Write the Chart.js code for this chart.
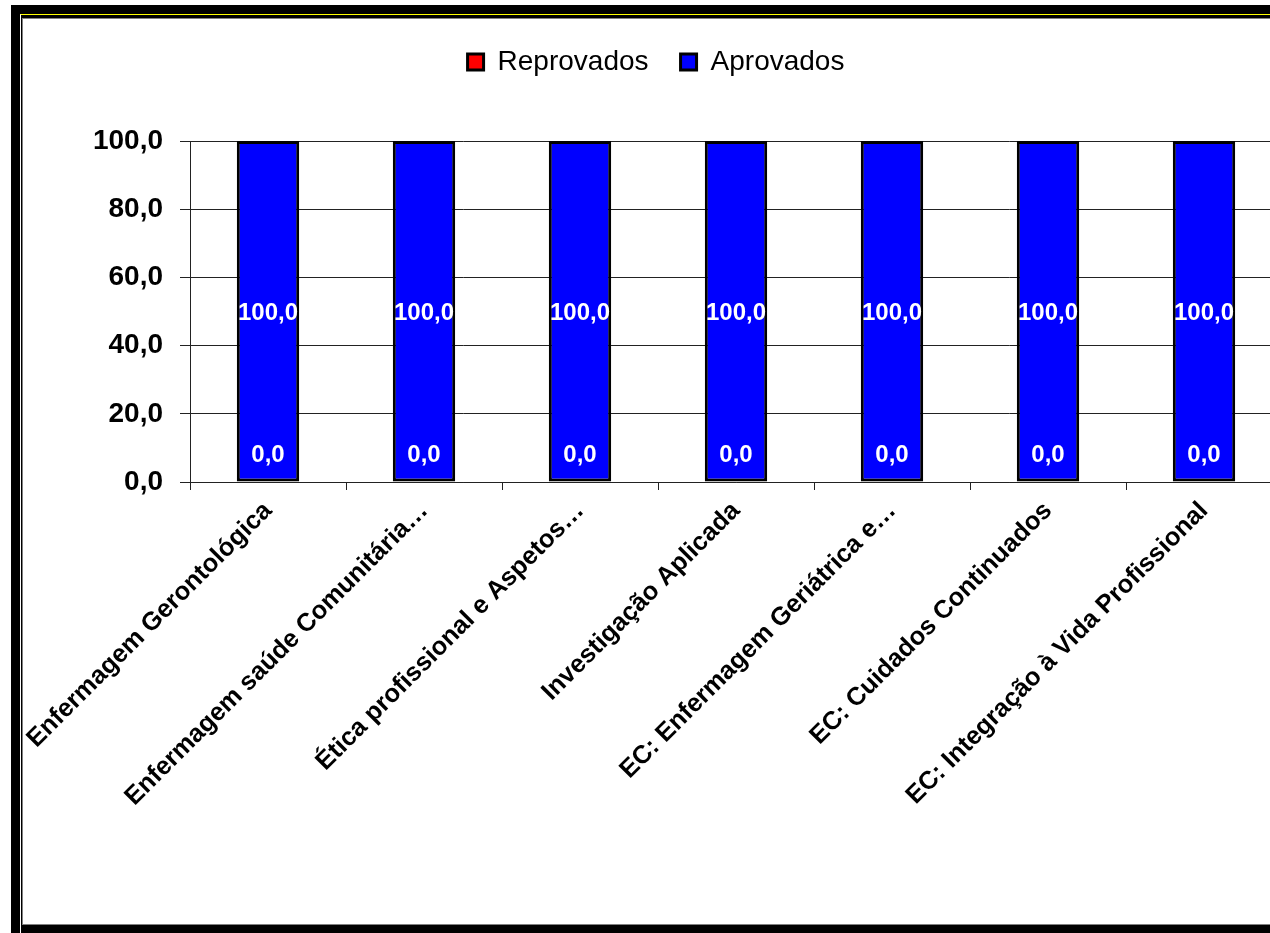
<!DOCTYPE html>
<html>
<head>
<meta charset="utf-8">
<script src="https://cdn.jsdelivr.net/npm/chart.js@4/dist/chart.umd.min.js"></script>
<style>
    html, body { margin: 0; padding: 0; background: #fff; overflow: hidden; width: 1270px; height: 933px; }
    .moldura { position: absolute; left: 11px; top: 5px; width: 1400px; height: 1000px; background: #000; }
    .moldura-int { position: absolute; left: 20px; top: 14px; width: 1400px; height: 1000px; background: #000;
                   border-top: 1px solid #ffff00; border-left: 1px solid #fff; }
    .fundo { position: absolute; left: 22px; top: 18px; width: 1400px; height: 905px; background: #fff;
             border: 1px solid #808080; }
    #grafico { position: absolute; left: 0; top: 0; }
</style>
</head>
<body>
<div class="moldura"></div>
<div class="moldura-int"></div>
<div class="fundo"></div>
<canvas id="grafico" width="1300" height="933"></canvas>
<script>
"use strict";

var categorias = [
    "Enfermagem Gerontológica",
    "Enfermagem saúde Comunitária…",
    "Ética profissional e Aspetos…",
    "Investigação Aplicada",
    "EC: Enfermagem Geriátrica e…",
    "EC: Cuidados Continuados",
    "EC: Integração à Vida Profissional"
];
var reprovados = [0, 0, 0, 0, 0, 0, 0];
var aprovados = [100, 100, 100, 100, 100, 100, 100];
var escalaY = { min: 0, max: 100, passo: 20 };

var FONTE = "'Liberation Sans', Arial, sans-serif";

function formata(v) {
    return Number(v).toFixed(1).replace('.', ',');
}

// rotulos brancos dentro das barras (valor de cada segmento)
var rotulosBarras = {
    id: 'rotulosBarras',
    afterDatasetsDraw: function (chart) {
        var ctx = chart.ctx;
        ctx.save();
        ctx.fillStyle = '#fff';
        ctx.font = 'bold 24px ' + FONTE;
        ctx.textAlign = 'center';
        ctx.textBaseline = 'middle';
        chart.data.datasets.forEach(function (ds, i) {
            var meta = chart.getDatasetMeta(i);
            meta.data.forEach(function (barra, j) {
                var alt = barra.base - barra.y;
                var y = alt < 40 ? barra.base - 27 : (barra.y + barra.base) / 2 + 2;
                ctx.fillText(formata(ds.data[j]), barra.x, y);
            });
        });
        ctx.restore();
    }
};

var chart = new Chart('grafico', {
    type: 'bar',
    data: {
        labels: categorias,
        datasets: [{
            label: 'Reprovados',
            data: reprovados,
            backgroundColor: '#ff0000',
            borderColor: '#000',
            borderWidth: 3,
            borderSkipped: false
        }, {
            label: 'Aprovados',
            data: aprovados,
            backgroundColor: '#0000ff',
            borderColor: '#000',
            borderWidth: 3,
            borderSkipped: false
        }]
    },
    options: {
        responsive: false,
        animation: false,
        events: [],
        layout: { padding: { left: 30, right: 18, top: 16, bottom: 0 } },
        datasets: { bar: { categoryPercentage: 1, barPercentage: 0.4 } },
        scales: {
            x: {
                stacked: true,
                afterFit: function (s) { s.height = 451; },
                border: { color: '#222', width: 1 },
                grid: { drawOnChartArea: false, drawTicks: true, tickLength: 8, color: '#222' },
                ticks: {
                    autoSkip: false,
                    minRotation: 45,
                    maxRotation: 45,
                    padding: 6,
                    color: '#000',
                    font: { family: FONTE, size: 25.5, weight: 'bold' }
                }
            },
            y: {
                stacked: true,
                min: escalaY.min,
                max: escalaY.max,
                afterFit: function (s) { s.width = 160; },
                border: { color: '#222', width: 1 },
                grid: { color: '#222', tickLength: 10 },
                ticks: {
                    stepSize: escalaY.passo,
                    padding: 17,
                    color: '#000',
                    font: { family: FONTE, size: 28, weight: 'bold' },
                    callback: function (v) { return formata(v); }
                }
            }
        },
        plugins: {
            legend: {
                position: 'top',
                weight: 3000,
                labels: {
                    boxWidth: 16,
                    boxHeight: 16,
                    padding: 32,
                    color: '#000',
                    font: { family: FONTE, size: 28 }
                }
            },
            // espaco entre a legenda e a area do grafico
            title: {
                display: true,
                text: '',
                font: { size: 10 },
                padding: { top: 0, bottom: 43 }
            },
            tooltip: { enabled: false }
        }
    },
    plugins: [rotulosBarras]
});
</script>
</body>
</html>
